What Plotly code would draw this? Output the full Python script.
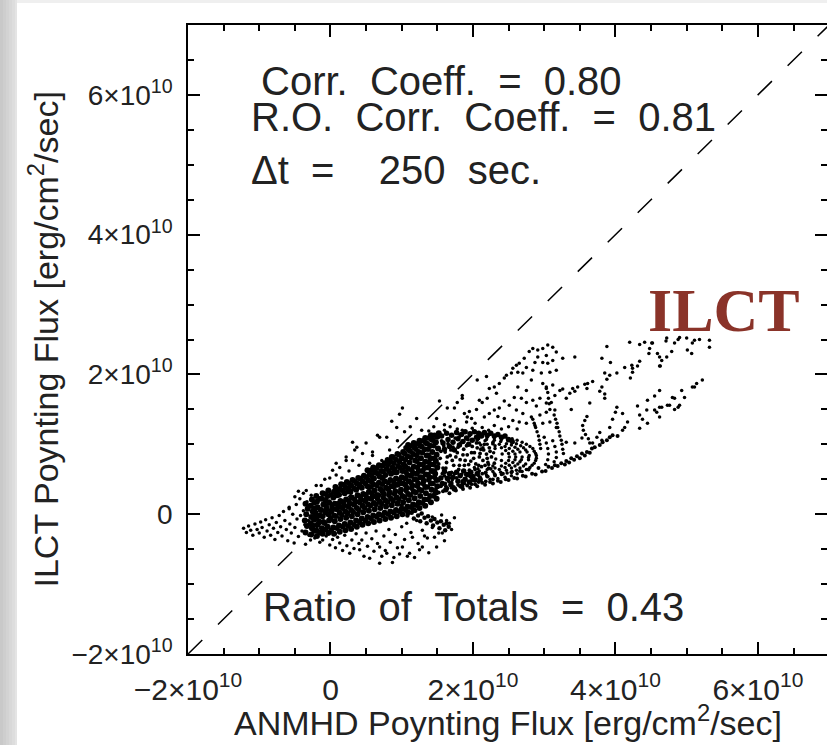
import plotly.graph_objects as go

E10 = 1e10  # all flux samples below are in units of 1e10 erg/cm^2/sec

# ---- scatter samples: (ANMHD flux, ILCT flux) ----
tail = [(-1.22,-0.20),(-1.18,-0.26),(-1.15,-0.17),(-1.12,-0.23),(-1.09,-0.30),(-1.06,-0.14),(-1.03,-0.22),
        (-1.00,-0.27),(-0.98,-0.11),(-0.96,-0.19),(-0.93,-0.33),(-0.91,-0.08),(-0.89,-0.24),(-0.86,-0.15),
        (-0.84,-0.30),(-0.82,-0.05),(-0.80,-0.20),(-0.78,-0.36),(-0.76,-0.12),(-0.74,-0.26),(-0.72,-0.02),
        (-0.70,-0.18),(-0.68,-0.31),(-0.66,0.04),(-0.64,-0.09),(-0.62,-0.22),(-0.60,-0.38),(-0.58,0.08),
        (-0.57,-0.14),(-0.55,-0.27),(-0.53,0.00),(-0.51,-0.41),(-0.50,-0.19),(-0.48,0.14),(-0.47,-0.07),
        (-0.45,-0.32),(-0.43,0.22),(-0.42,-0.02),(-0.40,-0.24),(-0.38,0.05),(-0.36,-0.15),(-0.35,-0.43),
        (-0.33,0.18),(-0.31,-0.09),(-0.30,-0.30)]

core = [(-0.35,-0.26),(-0.33,-0.17),(-0.36,-0.09),(-0.34,0.00),(-0.32,0.08),(-0.35,0.15),
        (-0.27,-0.29),(-0.26,-0.20),(-0.28,-0.13),(-0.27,-0.04),(-0.25,0.04),(-0.28,0.12),(-0.26,0.21),
        (-0.19,-0.31),(-0.20,-0.23),(-0.18,-0.15),(-0.20,-0.06),(-0.21,0.02),(-0.18,0.10),(-0.19,0.18),(-0.20,0.26),
        (-0.11,-0.28),(-0.12,-0.20),(-0.10,-0.11),(-0.11,-0.03),(-0.13,0.06),(-0.10,0.14),(-0.12,0.22),(-0.11,0.30),
        (-0.03,-0.27),(-0.04,-0.18),(-0.02,-0.09),(-0.03,0.00),(-0.05,0.08),(-0.02,0.17),(-0.04,0.26),(-0.03,0.34),
        (0.05,-0.28),(0.04,-0.19),(0.06,-0.10),(0.05,-0.02),(0.03,0.07),(0.06,0.15),(0.04,0.24),(0.05,0.32),(0.07,0.39),
        (0.13,-0.25),(0.12,-0.16),(0.14,-0.07),(0.13,0.02),(0.11,0.11),(0.14,0.19),(0.12,0.28),(0.13,0.36),(0.15,0.43),
        (0.21,-0.23),(0.20,-0.14),(0.22,-0.05),(0.21,0.04),(0.19,0.13),(0.22,0.21),(0.20,0.30),(0.21,0.38),(0.23,0.46),
        (0.29,-0.21),(0.28,-0.12),(0.30,-0.03),(0.29,0.06),(0.27,0.15),(0.30,0.24),(0.28,0.32),(0.29,0.41),(0.31,0.49),
        (0.37,-0.18),(0.36,-0.09),(0.38,0.00),(0.37,0.09),(0.35,0.18),(0.38,0.27),(0.36,0.35),(0.37,0.44),(0.39,0.52),
        (0.45,-0.15),(0.44,-0.06),(0.46,0.03),(0.45,0.12),(0.43,0.21),(0.46,0.29),(0.44,0.38),(0.45,0.47),(0.47,0.55),
        (0.53,-0.13),(0.52,-0.04),(0.54,0.05),(0.53,0.14),(0.51,0.23),(0.54,0.32),(0.52,0.40),(0.53,0.49),(0.55,0.57),(0.52,0.63),
        (0.61,-0.11),(0.60,-0.02),(0.62,0.07),(0.61,0.16),(0.59,0.25),(0.62,0.34),(0.60,0.43),(0.61,0.51),(0.63,0.60),(0.60,0.67),
        (0.69,-0.09),(0.68,0.00),(0.70,0.09),(0.69,0.18),(0.67,0.27),(0.70,0.36),(0.68,0.45),(0.69,0.54),(0.71,0.62),(0.68,0.70),
        (0.77,-0.07),(0.76,0.02),(0.78,0.11),(0.77,0.20),(0.75,0.29),(0.78,0.38),(0.76,0.47),(0.77,0.56),(0.79,0.65),(0.76,0.73),
        (0.85,-0.05),(0.84,0.04),(0.86,0.13),(0.85,0.22),(0.83,0.31),(0.86,0.40),(0.84,0.49),(0.85,0.58),(0.87,0.67),(0.84,0.75),(0.86,0.82),
        (0.93,-0.03),(0.92,0.06),(0.94,0.15),(0.93,0.24),(0.91,0.33),(0.94,0.42),(0.92,0.51),(0.93,0.60),(0.95,0.69),(0.92,0.78),(0.94,0.86),
        (1.01,0.00),(1.00,0.08),(1.02,0.17),(1.01,0.26),(0.99,0.35),(1.02,0.44),(1.00,0.53),(1.01,0.62),(1.03,0.71),(1.00,0.80),(1.02,0.89),
        (1.09,0.03),(1.08,0.11),(1.10,0.20),(1.09,0.29),(1.07,0.38),(1.10,0.47),(1.08,0.56),(1.09,0.65),(1.11,0.74),(1.08,0.83),(1.10,0.92),(1.09,0.99),
        (1.17,0.06),(1.16,0.14),(1.18,0.23),(1.17,0.32),(1.15,0.41),(1.18,0.50),(1.16,0.59),(1.17,0.68),(1.19,0.77),(1.16,0.86),(1.18,0.95),(1.17,1.02),
        (1.25,0.09),(1.24,0.17),(1.26,0.26),(1.25,0.35),(1.23,0.44),(1.26,0.53),(1.24,0.62),(1.25,0.71),(1.27,0.80),(1.24,0.89),(1.26,0.98),(1.25,1.05),
        (1.33,0.12),(1.32,0.21),(1.34,0.30),(1.33,0.39),(1.31,0.48),(1.34,0.57),(1.32,0.66),(1.33,0.75),(1.35,0.84),(1.32,0.93),(1.34,1.02),(1.33,1.09),
        (1.41,0.17),(1.40,0.26),(1.42,0.35),(1.41,0.44),(1.39,0.53),(1.42,0.62),(1.40,0.71),(1.41,0.80),(1.43,0.89),(1.40,0.98),(1.42,1.07),(1.41,1.13),
        (1.49,0.22),(1.48,0.31),(1.50,0.40),(1.49,0.49),(1.47,0.58),(1.50,0.67),(1.48,0.76),(1.49,0.85),(1.51,0.94),(1.48,1.03),(1.50,1.11),(1.52,1.16),
        (-0.23,-0.08),(-0.15,-0.02),(-0.07,0.03),(0.01,0.04),(0.09,0.07),(0.17,0.09),(0.25,0.11),(0.33,0.14),(0.41,0.17),
        (0.49,0.19),(0.57,0.22),(0.65,0.27),(0.73,0.33),(0.81,0.36),(0.89,0.40),(0.97,0.44),(1.05,0.51),(1.13,0.55),
        (1.21,0.58),(1.29,0.62),(1.37,0.67),(1.45,0.71),(-0.23,0.08),(-0.07,0.20),(0.09,0.27),(0.25,0.33),(0.41,0.40),
        (0.57,0.47),(0.73,0.52),(0.89,0.60),(1.05,0.68),(1.21,0.76),(1.37,0.84)]

core_fill = [(-0.23,-0.24),(-0.24,-0.16),(-0.22,-0.01),(-0.23,0.16),(-0.15,-0.26),(-0.16,-0.10),(-0.14,0.06),(-0.15,0.22),
             (-0.07,-0.22),(-0.08,-0.13),(-0.06,0.12),(-0.07,0.29),(0.01,-0.23),(0.00,-0.06),(0.02,0.12),(0.01,0.28),
             (0.09,-0.20),(0.08,-0.03),(0.10,0.15),(0.09,0.32),(0.17,-0.18),(0.16,-0.01),(0.18,0.17),(0.17,0.34),(0.18,0.42),
             (0.25,-0.17),(0.24,0.01),(0.26,0.19),(0.25,0.37),(0.26,0.44),(0.33,-0.15),(0.32,0.03),(0.34,0.21),(0.33,0.37),(0.34,0.47),
             (0.41,-0.12),(0.40,0.06),(0.42,0.25),(0.41,0.43),(0.42,0.51),(0.49,-0.09),(0.48,0.09),(0.50,0.28),(0.49,0.44),(0.50,0.53),
             (0.57,-0.06),(0.56,0.12),(0.58,0.30),(0.57,0.39),(0.58,0.55),(0.57,0.63),(0.65,-0.04),(0.64,0.14),(0.66,0.22),(0.65,0.41),
             (0.66,0.58),(0.65,0.66),(0.73,-0.02),(0.72,0.15),(0.74,0.24),(0.73,0.43),(0.74,0.61),(0.73,0.69),
             (0.81,0.00),(0.80,0.17),(0.82,0.27),(0.81,0.45),(0.82,0.62),(0.81,0.71),(0.80,0.78),
             (0.89,0.02),(0.88,0.19),(0.90,0.29),(0.89,0.46),(0.90,0.64),(0.89,0.73),(0.88,0.82),
             (0.97,0.04),(0.96,0.21),(0.98,0.31),(0.97,0.49),(0.98,0.66),(0.97,0.75),(0.96,0.85),
             (1.05,0.07),(1.04,0.24),(1.06,0.34),(1.05,0.42),(1.06,0.60),(1.05,0.78),(1.04,0.87),(1.06,0.95),
             (1.13,0.10),(1.12,0.27),(1.14,0.37),(1.13,0.45),(1.14,0.63),(1.13,0.81),(1.12,0.90),(1.14,0.98),
             (1.21,0.13),(1.20,0.31),(1.22,0.40),(1.21,0.49),(1.22,0.67),(1.21,0.84),(1.20,0.93),(1.22,1.01),
             (1.29,0.16),(1.28,0.34),(1.30,0.44),(1.29,0.53),(1.30,0.71),(1.29,0.88),(1.28,0.97),(1.30,1.05),
             (1.37,0.21),(1.36,0.39),(1.38,0.49),(1.37,0.57),(1.38,0.75),(1.37,0.93),(1.36,1.01),(1.38,1.09),
             (1.45,0.26),(1.44,0.44),(1.46,0.53),(1.45,0.62),(1.46,0.80),(1.45,0.98),(1.44,1.06),(1.46,1.13),
             (1.56,1.12),(1.58,1.02),(1.60,0.93),(1.63,1.16),(1.65,1.07),(1.67,0.97),(1.70,1.13),(1.72,1.03),
             (1.74,0.92),(1.77,1.17),(1.79,1.08),(1.81,0.99),(1.84,1.14),(1.86,1.04),(1.89,1.18),(1.91,1.09),
             (1.94,1.00),(1.96,1.15),(1.99,1.06),(2.02,1.18),(2.05,1.10),(2.08,1.16),(2.12,1.12),(2.16,1.17),
             (2.20,1.13),(2.25,1.16),(2.30,1.12),(2.35,1.14),(2.40,1.10),(2.45,1.12),(2.50,1.07),(2.55,1.04),
             (1.55,0.52),(1.57,0.44),(1.60,0.61),(1.62,0.35),(1.64,0.51),(1.67,0.58),(1.69,0.42),(1.72,0.53),
             (1.74,0.36),(1.77,0.60),(1.79,0.47),(1.82,0.55),(1.84,0.40),(1.87,0.62),(1.89,0.50),(1.92,0.57),
             (1.95,0.46),(1.97,0.60),(2.00,0.54),(2.03,0.49),(2.06,0.58),(2.10,0.50)]

tongue = [(1.00,0.12),(1.05,0.06),(1.10,0.10),(1.14,0.02),(1.19,0.05),(1.23,-0.02),(1.28,0.01),(1.32,-0.05),
          (1.37,-0.03),(1.41,-0.09),(1.46,-0.07),(1.50,-0.12),(1.55,-0.10),(1.59,-0.15),(1.63,-0.13),(1.66,-0.18),
          (1.08,-0.02),(1.17,-0.06),(1.26,-0.10),(1.35,-0.13),(1.44,-0.16),(1.53,-0.20),(1.61,-0.23)]

lobe = [(-0.28,-0.37),(-0.22,-0.34),(-0.15,-0.40),(-0.11,-0.37),(-0.06,-0.31),(-0.01,-0.44),(0.03,-0.36),(0.07,-0.48),
        (0.10,-0.33),(0.13,-0.41),(0.17,-0.52),(0.20,-0.30),(0.23,-0.45),(0.27,-0.56),(0.30,-0.37),(0.33,-0.49),
        (0.36,-0.28),(0.40,-0.42),(0.41,-0.51),(0.44,-0.37),(0.47,-0.60),(0.50,-0.27),(0.52,-0.46),(0.55,-0.63),
        (0.58,-0.35),(0.61,-0.53),(0.64,-0.24),(0.66,-0.42),(0.69,-0.70),(0.69,-0.47),(0.72,-0.60),(0.75,-0.31),
        (0.77,-0.52),(0.79,-0.56),(0.82,-0.22),(0.84,-0.40),(0.87,-0.69),(0.89,-0.62),(0.91,-0.29),(0.94,-0.48),
        (0.97,-0.57),(1.00,-0.18),(1.01,-0.47),(1.04,-0.36),(1.07,-0.13),(1.08,-0.60),(1.11,-0.56),(1.13,-0.26),
        (1.15,-0.33),(1.18,-0.62),(1.21,-0.09),(1.23,-0.42),(1.25,-0.51),(1.29,-0.23),(1.29,-0.47),(1.32,-0.31),
        (1.36,-0.34),(1.38,-0.55),(1.43,-0.19),(1.43,-0.04),(1.46,-0.33),(1.49,-0.47),(1.52,-0.27),(1.56,-0.01),
        (1.57,-0.27),(1.60,-0.38),(1.63,-0.09),(1.67,-0.13),(1.70,-0.22),(1.74,-0.05)]

upper_left = [(-0.58,0.10),(-0.50,0.25),(-0.45,0.33),(-0.38,0.30),(-0.34,0.34),(-0.27,0.27),(-0.20,0.41),(-0.13,0.41),
              (-0.08,0.50),(-0.01,0.52),(0.03,0.63),(0.08,0.56),(0.08,0.73),(0.13,0.67),(0.16,0.52),(0.22,0.77),
              (0.22,0.82),(0.26,0.62),(0.31,0.77),(0.31,1.03),(0.34,0.92),(0.37,0.96),(0.40,0.70),(0.45,0.87),
              (0.50,1.02),(0.55,0.73),(0.59,0.84),(0.59,0.89),(0.66,1.13),(0.69,1.10),(0.72,0.77),(0.79,1.10),
              (0.83,0.92),(0.86,1.33),(0.93,1.24),(0.94,1.05),(0.97,1.43),(1.01,1.52),(1.04,1.18),(1.12,1.25),
              (1.21,1.37),(1.28,1.20),(1.38,1.19),(1.49,1.37),(1.53,1.62),(1.45,1.25),(1.60,1.28),
              (1.60,1.20),(1.68,1.25),(1.78,1.22),(2.03,1.30),(2.22,1.20),(2.40,1.22),(2.50,1.25),(2.62,1.22)]

rings = [(1.79,1.15),(2.11,1.15),(2.34,1.13),(2.55,1.08),(2.69,1.03),(2.80,0.97),(2.86,0.90),(2.89,0.84),
         (2.88,0.77),(2.83,0.70),(2.75,0.64),(2.62,0.58),(2.45,0.53),(2.24,0.50),(1.98,0.48),(1.71,0.49),
         (1.95,1.16),(2.23,1.14),(2.45,1.11),(2.62,1.06),(2.75,1.00),(2.84,0.94),(2.88,0.87),(2.89,0.80),
         (2.86,0.73),(2.80,0.67),(2.69,0.61),(2.54,0.55),(2.35,0.51),(2.11,0.49),(1.85,0.48),
         (1.81,1.11),(2.09,1.11),(2.30,1.09),(2.49,1.05),(2.61,1.01),(2.71,0.95),(2.76,0.89),(2.79,0.84),
         (2.78,0.78),(2.74,0.72),(2.66,0.66),(2.55,0.61),(2.40,0.57),(2.21,0.54),(1.98,0.52),
         (1.95,1.12),(2.20,1.10),(2.40,1.07),(2.56,1.03),(2.67,0.98),(2.74,0.92),(2.78,0.81),(2.71,0.69),
         (2.61,0.63),(2.48,0.59),(2.31,0.55),(2.10,0.53),
         (2.08,1.08),(2.30,1.06),(2.47,1.01),(2.59,0.96),(2.66,0.89),(2.69,0.82),(2.66,0.75),(2.59,0.69),
         (2.47,0.63),(2.30,0.58),(2.08,0.55),(2.19,1.07),(2.39,1.04),(2.54,0.99),(2.63,0.93),(2.68,0.78),
         (2.63,0.72),(2.54,0.66),(2.39,0.60),(2.19,0.56),
         (2.06,1.06),(2.28,1.03),(2.45,0.97),(2.56,0.90),(2.60,0.82),(2.56,0.74),(2.45,0.67),(2.28,0.61),(2.06,0.58),
         (2.17,1.05),(2.37,1.00),(2.51,0.94),(2.59,0.86),(2.59,0.78),(2.51,0.70),(2.37,0.64),(2.17,0.59),
         (2.09,1.02),(2.31,0.98),(2.46,0.91),(2.51,0.82),(2.46,0.73),(2.31,0.66),(2.09,0.62),
         (2.20,1.00),(2.40,0.95),(2.50,0.87),(2.50,0.77),(2.40,0.69),(2.20,0.64),
         (2.11,0.99),(2.31,0.94),(2.41,0.86),(2.40,0.77),(2.28,0.69),(2.07,0.65),
         (2.14,0.95),(2.29,0.88),(2.32,0.79),(2.22,0.71),(2.02,0.67),
         (3.00,1.10),(3.03,1.02),(3.05,0.94),(3.06,0.86),(3.05,0.78),(3.02,0.71),
         (3.12,1.05),(3.15,0.97),(3.17,0.89),(3.17,0.81),(3.14,0.75)]

ring_fill = [(1.47,0.62),(1.50,0.95),(1.52,0.48),(1.54,0.80),(1.56,1.05),(1.58,0.66),(1.60,0.55),(1.61,0.89),
             (1.63,0.74),(1.65,1.01),(1.66,0.47),(1.68,0.84),(1.70,0.60),(1.72,0.96),(1.73,0.70),(1.75,1.09),
             (1.77,0.52),(1.78,0.88),(1.80,0.64),(1.82,0.78),(1.83,1.02),(1.85,0.45),(1.87,0.93),(1.88,0.70),
             (1.90,0.57),(1.92,0.85),(1.93,1.07),(1.95,0.63),(1.97,0.76),(1.99,0.97),(2.00,0.51),(2.02,0.88),
             (2.04,0.72),(2.05,1.02),(2.07,0.60),(2.09,0.82),(2.11,0.93),(2.12,0.68),(2.14,0.77),(2.16,1.00),
             (2.18,0.60),(2.19,0.86),(2.21,0.74),(2.23,0.95),(2.25,0.65),(2.26,0.82),(2.28,1.01),(2.30,0.73),
             (1.62,0.40),(1.70,0.38),(1.79,0.42),(1.88,0.44),(1.98,0.43),(2.08,0.46),(2.18,0.47),(2.28,0.50),
             (1.52,0.72),(1.55,0.90),(1.57,0.58),(1.59,0.98),(1.62,0.66),(1.64,0.82),(1.67,0.52),(1.69,0.92),
             (1.71,0.77),(1.74,0.58),(1.76,0.82),(1.79,0.96),(1.81,0.70),(1.84,0.57),(1.86,0.85),(1.89,0.77),
             (1.91,0.98),(1.94,0.71),(1.96,0.54),(1.98,0.88),(2.01,0.80),(2.03,0.64),(2.06,0.95),(2.08,0.70),
             (2.10,0.87),(2.13,0.58),(2.15,0.92),(2.17,0.70),(2.20,0.80),(2.22,0.66),(2.24,0.90)]

band = [(1.45,0.28),(1.48,0.36),(1.52,0.31),(1.55,0.40),(1.58,0.33),(1.61,0.44),(1.64,0.37),(1.67,0.30),
        (1.70,0.45),(1.73,0.39),(1.76,0.34),(1.79,0.48),(1.82,0.40),(1.86,0.36),(1.89,0.49),(1.92,0.41),
        (1.96,0.38),(1.99,0.51),(2.03,0.43),(2.06,0.40),(2.10,0.52),(2.13,0.45),(2.17,0.42),(2.20,0.54),
        (2.24,0.46),(2.28,0.44),(2.31,0.56),(2.35,0.48),(2.39,0.46),(2.42,0.58),(2.46,0.50),(2.50,0.49),
        (2.54,0.60),(2.58,0.52),(2.62,0.51),(2.66,0.62),(2.70,0.55),(2.74,0.54),(2.78,0.64),(2.83,0.58),
        (2.88,0.57),(2.92,0.66),(2.97,0.61),(3.02,0.62),(3.06,0.68),(3.11,0.66),(3.15,0.70),(3.19,0.69),
        (3.24,0.73),(3.31,0.76),(3.38,0.80),(3.46,0.83),(3.53,0.87),(3.60,0.89),(3.67,0.94),(3.71,0.96),
        (3.78,0.99),(3.82,1.03),(3.88,1.06),(3.92,1.10),(3.96,1.13),(4.03,1.12),(3.29,0.71),(3.35,0.74),
        (3.42,0.78),(3.50,0.80),(3.57,0.84),(3.64,0.88)]

chains = [(2.84,1.36),(2.86,1.30),(2.88,1.24),(2.90,1.18),(2.92,1.12),(2.93,1.06),(2.94,1.00),(2.95,0.94),
          (3.14,1.42),(3.16,1.36),(3.18,1.30),(3.19,1.24),(3.21,1.18),(3.22,1.12),(3.24,1.06),(3.25,1.00),
          (3.26,0.93),(3.27,0.87),(3.60,1.40),(3.57,1.34),(3.54,1.27),(3.55,1.20),(3.58,1.14),(3.62,1.08),
          (3.64,1.02),(3.03,1.82),(3.05,1.74),(3.06,1.66),(3.07,1.58),(3.08,1.50)]

fan = [(2.06,1.92),(2.19,1.97),(1.64,1.52),(1.74,1.52),(1.78,1.60),(1.85,1.66),(1.85,1.70),(1.74,1.34),
       (1.88,1.44),(1.95,1.47),(1.92,1.39),(1.91,1.32),(1.98,1.37),(2.05,1.50),(2.09,1.63),(2.13,1.60),
       (2.20,1.66),(2.23,1.80),(2.30,1.82),(2.33,1.73),(2.37,1.87),(2.44,1.95),(2.47,1.99),(2.54,2.02),
       (2.56,2.09),(2.61,2.13),(2.65,2.16),(2.63,2.03),(2.70,2.02),(2.75,2.10),(2.72,2.23),(2.79,2.33),
       (2.84,2.37),(2.91,2.35),(2.98,2.37),(3.05,2.42),(3.12,2.39),(3.17,2.32),(3.03,2.27),(2.91,2.25),
       (2.87,2.17),(2.98,2.17),(3.05,2.16),(3.12,2.20),(2.84,2.06),(2.96,2.02),(3.08,2.03),(3.17,2.06),
       (2.82,1.92),(2.98,1.87),(3.03,1.80),(3.12,1.85),(3.15,1.70),(2.75,1.77),(2.63,1.82),(2.58,1.67),
       (2.68,1.66),(2.75,1.60),(2.84,1.63),(2.94,1.66),(2.89,1.55),(3.03,1.59),(3.10,1.60),(3.15,1.49),
       (3.03,1.46),(2.94,1.42),(2.82,1.39),(2.70,1.44),(2.61,1.49),(2.51,1.56),(2.44,1.62),(2.37,1.52),
       (2.30,1.49),(2.23,1.44),(2.16,1.39),(2.35,1.40),(2.44,1.37),(2.56,1.34),(2.65,1.32),(2.75,1.30),
       (2.87,1.27),(2.98,1.30),(3.08,1.32),(3.17,1.24),(2.30,1.27),(2.13,1.24),(1.99,1.23),(1.85,1.20)]

wing = [(3.88,2.40),(4.20,2.46),(4.34,2.43),(4.41,2.46),(4.51,2.45),(4.71,2.48),(4.83,2.45),(4.88,2.50),
        (5.00,2.52),(5.08,2.45),(5.18,2.50),(5.32,2.49),(5.32,2.39),(4.48,2.37),(4.47,2.30),(4.59,2.30),
        (4.62,2.25),(4.72,2.25),(4.79,2.33),(5.01,2.35),(5.07,2.30),(4.34,2.19),(4.23,2.13),(4.24,2.09),
        (4.62,2.12),(4.13,2.10),(4.31,2.12),(4.24,2.03),(4.21,1.95),(3.81,2.23),(3.93,2.17),(3.43,2.25),
        (3.26,2.23),(4.02,2.02),(3.85,2.02),(3.92,1.99),(3.88,1.93),(3.68,1.90),(3.61,1.87),(3.57,1.86),
        (3.60,1.80),(3.81,1.82),(3.78,1.76),(3.85,1.72),(3.47,1.82),(3.40,1.80),(3.43,1.76),(3.36,1.73),
        (3.31,1.66),(3.26,1.79),(3.22,1.77),(3.64,1.59),(3.38,1.50),(4.02,1.53),(4.00,1.46),(4.10,1.44),
        (3.96,1.36),(3.92,1.24),(3.78,1.17),(3.81,1.06),(3.74,1.10),(3.68,1.02),(3.53,1.09),(3.43,1.02),
        (3.31,1.03),(3.85,1.66),(4.31,1.55),(4.45,1.63),(4.62,1.77),(4.34,1.42),(4.44,1.49),(4.55,1.49),
        (4.62,1.53),(4.73,1.56),(4.83,1.66),(4.88,1.53),(4.97,1.67),(4.93,1.77),(5.11,1.82),(5.14,1.87),
        (5.22,1.92),(4.38,1.36),(4.45,1.30),(4.34,1.23),(4.17,1.32),(4.13,1.24),(4.10,1.20),(4.55,1.69),
        (4.80,1.67),(4.90,1.56),(4.76,1.56),(4.65,1.53),(4.83,1.50),(4.58,1.46),(4.62,1.39),(5.08,1.82),
        (4.52,2.45),(4.72,2.52),(4.90,2.53),(5.11,2.49),(4.65,2.20),(4.63,2.12)]

# ---- statistics printed on the panel ----
CORR = 0.80
RO_CORR = 0.81
DT_SEC = 250
RATIO_TOTALS = 0.43

# axis labelling
TICK_VALS = [-2, 0, 2, 4, 6]
TICK_TEXT = ["\u22122\u00d710<sup>10</sup>", "0", "2\u00d710<sup>10</sup>",
             "4\u00d710<sup>10</sup>", "6\u00d710<sup>10</sup>"]
X_RANGE = [-2.0, 6.97]
Y_RANGE = [-2.0, 7.0]

SANS = "Liberation Sans, Arial, Helvetica, sans-serif"
NB = "\u00a0"


def cols(pts):
    return [p[0] * E10 for p in pts], [p[1] * E10 for p in pts]


fig = go.Figure()

# one-to-one reference line
fig.add_trace(go.Scatter(x=[Y_RANGE[0] * E10, Y_RANGE[1] * E10], y=[Y_RANGE[0] * E10, Y_RANGE[1] * E10],
                         mode="lines", line=dict(color="black", width=1.5, dash="20px,22px"),
                         hoverinfo="skip", showlegend=False))

for pts, size in [(core, 6), (core_fill, 5.5), (tongue, 4.5), (tail, 3.5), (lobe, 3.5), (upper_left, 3.5),
                  (rings, 3.5), (ring_fill, 3.8), (band, 4), (chains, 3.5), (fan, 3.5), (wing, 3.5)]:
    xs, ys = cols(pts)
    fig.add_trace(go.Scatter(x=xs, y=ys, mode="markers",
                             marker=dict(color="black", size=size, line=dict(width=0)),
                             showlegend=False, hoverinfo="x+y"))

# empty trace that carries the mirrored (top/right) tick axes
fig.add_trace(go.Scatter(x=[None], y=[None], xaxis="x2", yaxis="y2", showlegend=False, hoverinfo="skip"))

minor = dict(ticks="inside", ticklen=6, tickwidth=1.5, tickcolor="black", dtick=0.5 * E10, tick0=0)
common = dict(showgrid=False, zeroline=False, ticks="inside", ticklen=12, tickwidth=1.5, tickcolor="black",
              tickvals=[v * E10 for v in TICK_VALS], minor=minor)

fig.update_layout(
    width=827, height=745,
    margin=dict(l=188, r=0, t=25, b=91),
    paper_bgcolor="white", plot_bgcolor="white",
    xaxis=dict(range=[X_RANGE[0] * E10, X_RANGE[1] * E10], ticktext=TICK_TEXT,
               showline=True, linecolor="black", linewidth=1.5,
               tickfont=dict(family=SANS, size=30, color="#222"), ticklabelstandoff=8, **common),
    yaxis=dict(range=[Y_RANGE[0] * E10, Y_RANGE[1] * E10], ticktext=TICK_TEXT,
               showline=True, linecolor="black", linewidth=1.5,
               tickfont=dict(family=SANS, size=28, color="#222"), ticklabelstandoff=8, **common),
    xaxis2=dict(range=[X_RANGE[0] * E10, X_RANGE[1] * E10], overlaying="x", side="top", anchor="y",
                showline=True, linecolor="black", linewidth=1.5, showticklabels=False, **common),
    yaxis2=dict(range=[Y_RANGE[0] * E10, Y_RANGE[1] * E10], overlaying="y", side="right", anchor="x",
                showline=False, showticklabels=False, **common),
)

# soft page edge on the left and top
edge = [(0, 3, "#c9c9c9"), (3, 6, "#cecece"), (6, 9, "#d3d3d3"), (9, 12, "#d8d8d8"),
        (12, 15, "#dddddd"), (15, 17, "#e4e4e4")]
for x0, x1, c in edge:
    fig.add_shape(type="rect", xref="paper", yref="paper",
                  x0=(x0 - 188) / 639, x1=(x1 - 188) / 639, y0=(654 - 745) / 629, y1=(654 + 1) / 629 + 0.04,
                  fillcolor=c, line=dict(width=0), layer="above")
fig.add_shape(type="rect", xref="paper", yref="paper", x0=(17 - 188) / 639, x1=1.0,
              y0=(654 - 3) / 629, y1=(654 - 0) / 629, fillcolor="#efefef", line=dict(width=0), layer="above")

txt = dict(xref="x", yref="y", xanchor="left", yanchor="middle", showarrow=False,
           font=dict(family=SANS, size=40, color="#222"))
fig.add_annotation(x=-1.0 * E10, y=6.2 * E10,
                   text=f"Corr.{NB*2}Coeff.{NB*2}={NB*2}{CORR:.2f}", **txt)
fig.add_annotation(x=-1.14 * E10, y=5.68 * E10,
                   text=f"R.O.{NB*2}Corr.{NB*2}Coeff.{NB*2}={NB*2}{RO_CORR:.2f}", **txt)
fig.add_annotation(x=-1.14 * E10, y=4.93 * E10,
                   text=f"\u0394t{NB*2}={NB*4}{DT_SEC}{NB*2}sec.", **txt)
fig.add_annotation(x=-0.97 * E10, y=-1.33 * E10,
                   text=f"Ratio{NB*2}of{NB*2}Totals{NB*2}={NB*2}{RATIO_TOTALS:.2f}", **txt)

fig.add_annotation(x=5.53 * E10, y=2.92 * E10, xref="x", yref="y", showarrow=False,
                   xanchor="center", yanchor="middle", text="<b>ILCT</b>",
                   font=dict(family="Liberation Serif, Times New Roman, serif", size=62, color="#8a3329"))

# axis titles
fig.add_annotation(x=0.5, y=(654 - 720) / 629, xref="paper", yref="paper", showarrow=False,
                   xanchor="center", yanchor="middle",
                   text="ANMHD Poynting Flux [erg/cm<sup>2</sup>/sec]",
                   font=dict(family=SANS, size=34, color="#222"))
fig.add_annotation(x=(43 - 188) / 639, y=0.5, xref="paper", yref="paper", showarrow=False,
                   xanchor="center", yanchor="middle", textangle=-90,
                   text="ILCT Poynting Flux [erg/cm<sup>2</sup>/sec]",
                   font=dict(family=SANS, size=34, color="#222"))

fig.write_html("out.html", config={"displayModeBar": False})
